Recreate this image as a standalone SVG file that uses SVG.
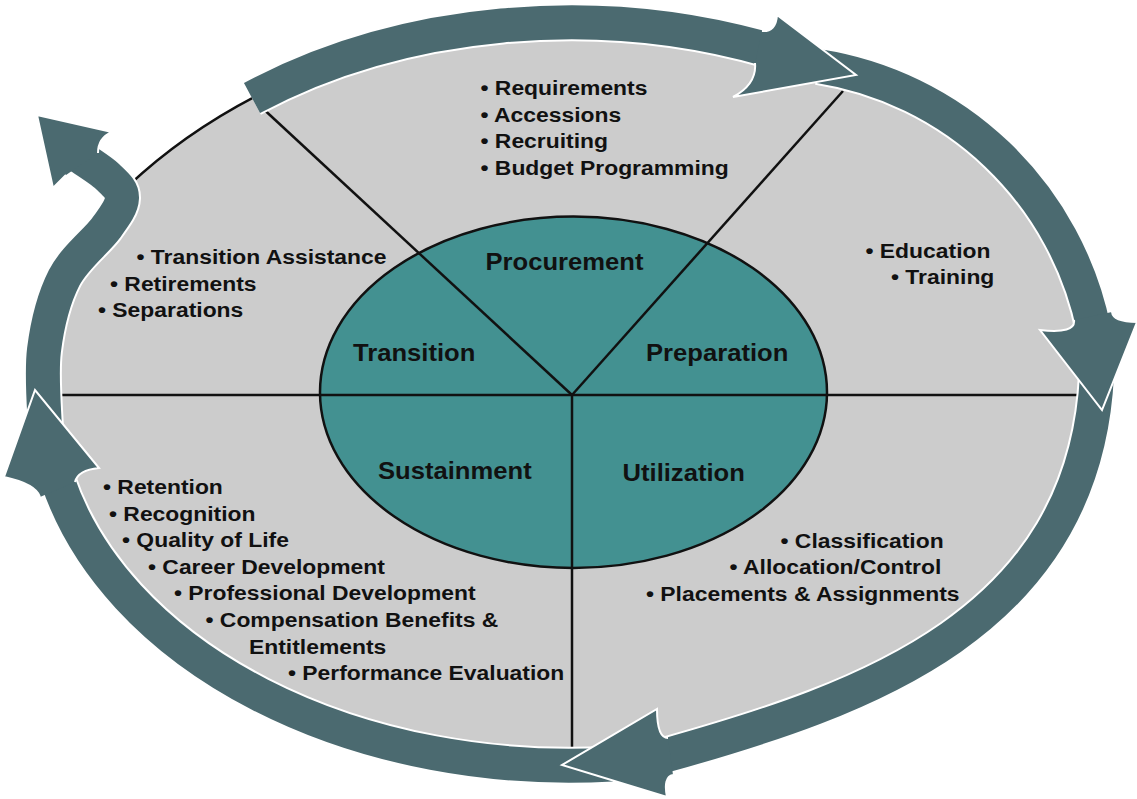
<svg xmlns="http://www.w3.org/2000/svg" width="1137" height="799" viewBox="0 0 1137 799">
<defs>
<style>
.bg{fill:#cccccc}
.edge{fill:none;stroke:#111;stroke-width:2.5}
.core{fill:#439191;stroke:#111;stroke-width:2.5}
.div{fill:none;stroke:#111;stroke-width:2.5}
.bw{fill:none;stroke:#ffffff;stroke-width:38}
.bs{fill:none;stroke:#4b6a70;stroke-width:34}
.hd{fill:#4b6a70;stroke:#ffffff;stroke-width:2;stroke-linejoin:miter}
text{font-family:"Liberation Sans",Arial,sans-serif;font-weight:bold;fill:#111}
.t{font-size:23.5px}
.i{font-size:21px}
</style>
</defs>
<rect x="0" y="0" width="1137" height="799" fill="#ffffff"/>
<g id="field">
<path class="bg" d="M252,98 A526,371.5 0 0 1 765,49 L818,66 A334,334 0 0 1 1094,330 L1097,375 C1084.5,624.4 864.5,699.8 664,756 L612,764.5 A526,371.5 0 0 1 57.5,480 L45,430 C44.8,416.7 40.8,375.3 44,350 C47.2,324.7 53.7,298.3 64,278 C74.3,257.7 96.3,241.3 106,228 C115.7,214.7 121.7,206.5 122,198 L128,186 Q183,134 252,98 Z"/>
<path class="edge" d="M128,186 Q183,134 256,96"/>
</g>
<g id="core">
<ellipse class="core" cx="573.5" cy="392.3" rx="253.5" ry="175.7"/>
</g>
<g id="connectors">
<path class="div" d="M572,395 L258,104"/>
<path class="div" d="M572,395 L843,91"/>
<path class="div" d="M50,395 L1082,395"/>
<path class="div" d="M572,395 L572,760"/>
</g>
<g id="cycle-arrows">
<g id="arrow-transition-loop">
<path class="bw" d="M45,430 C44.8,416.7 40.8,375.3 44,350 C47.2,324.7 53.7,298.3 64,278 C74.3,257.7 96.3,241.3 106,228 C115.7,214.7 121.7,206.5 122,198 C122.3,189.5 115.5,184.2 108,177 C100.5,169.8 82.2,158.7 77,155"/>
<path class="bs" d="M45,430 C44.8,416.7 40.8,375.3 44,350 C47.2,324.7 53.7,298.3 64,278 C74.3,257.7 96.3,241.3 106,228 C115.7,214.7 121.7,206.5 122,198 C122.3,189.5 115.5,184.2 108,177 C100.5,169.8 82.2,158.7 77,155"/>
<path class="hd" d="M66,175 L53,188 L37,115 L112,132 Q98,138 98,153"/>
</g>
<g id="arrow-sustainment">
<path class="bw" d="M612,764.5 A526,371.5 0 0 1 57.5,480"/>
<path class="bs" d="M612,764.5 A526,371.5 0 0 1 57.5,480"/>
<path class="hd" d="M40,497 Q36,484 4,477 L35,390 L99,468 Q78,470 75,482"/>
</g>
<g id="arrow-utilization">
<path class="bw" d="M1097,375 C1084.5,624.4 864.5,699.8 664,756"/>
<path class="bs" d="M1097,375 C1084.5,624.4 864.5,699.8 664,756"/>
<path class="hd" d="M668,738 Q657,738 657,709 L562,765 L667,797 Q663,777 673,775"/>
</g>
<g id="arrow-preparation">
<path class="bw" d="M818,66 A334,334 0 0 1 1094,330"/>
<path class="bs" d="M818,66 A334,334 0 0 1 1094,330"/>
<path class="hd" d="M1112,312 Q1113,322 1137,322 L1102,410 L1040,330 Q1076,334 1074,320"/>
</g>
<g id="arrow-procurement">
<path class="bw" d="M252,98 A526,371.5 0 0 1 770,50.2"/>
<path class="bs" d="M252,98 A526,371.5 0 0 1 770,50.2"/>
<path class="hd" d="M762,31 Q776,32 777,15 L856,75 L733,97 Q757,84 755,63"/>
</g>
</g>
<g id="procurement">
<text class="t" transform="translate(485.5 270) scale(1.09 1)">Procurement</text>
<text class="i" transform="translate(480.5 95) scale(1.09 1)">• Requirements</text>
<text class="i" transform="translate(480.5 121.5) scale(1.09 1)">• Accessions</text>
<text class="i" transform="translate(480.5 148) scale(1.09 1)">• Recruiting</text>
<text class="i" transform="translate(480.5 174.5) scale(1.09 1)">• Budget Programming</text>
</g>
<g id="preparation">
<text class="t" transform="translate(646 361) scale(1.09 1)">Preparation</text>
<text class="i" transform="translate(865.5 257.5) scale(1.09 1)">• Education</text>
<text class="i" transform="translate(891 284) scale(1.09 1)">• Training</text>
</g>
<g id="utilization">
<text class="t" transform="translate(622.5 480.5) scale(1.09 1)">Utilization</text>
<text class="i" transform="translate(780.5 547.5) scale(1.09 1)">• Classification</text>
<text class="i" transform="translate(729.5 574) scale(1.09 1)">• Allocation/Control</text>
<text class="i" transform="translate(646 600.5) scale(1.09 1)">• Placements &amp; Assignments</text>
</g>
<g id="sustainment">
<text class="t" transform="translate(378 478.5) scale(1.09 1)">Sustainment</text>
<text class="i" transform="translate(103 494) scale(1.09 1)">• Retention</text>
<text class="i" transform="translate(109 520.5) scale(1.09 1)">• Recognition</text>
<text class="i" transform="translate(122 547) scale(1.09 1)">• Quality of Life</text>
<text class="i" transform="translate(148 573.5) scale(1.09 1)">• Career Development</text>
<text class="i" transform="translate(174 600) scale(1.09 1)">• Professional Development</text>
<text class="i" transform="translate(205.5 626.5) scale(1.09 1)">• Compensation Benefits &amp;</text>
<text class="i" transform="translate(249 653.5) scale(1.09 1)">Entitlements</text>
<text class="i" transform="translate(288 680) scale(1.09 1)">• Performance Evaluation</text>
</g>
<g id="transition">
<text class="t" transform="translate(353 361) scale(1.09 1)">Transition</text>
<text class="i" transform="translate(136.5 264) scale(1.09 1)">• Transition Assistance</text>
<text class="i" transform="translate(110 290.5) scale(1.09 1)">• Retirements</text>
<text class="i" transform="translate(98 317) scale(1.09 1)">• Separations</text>
</g>
</svg>
